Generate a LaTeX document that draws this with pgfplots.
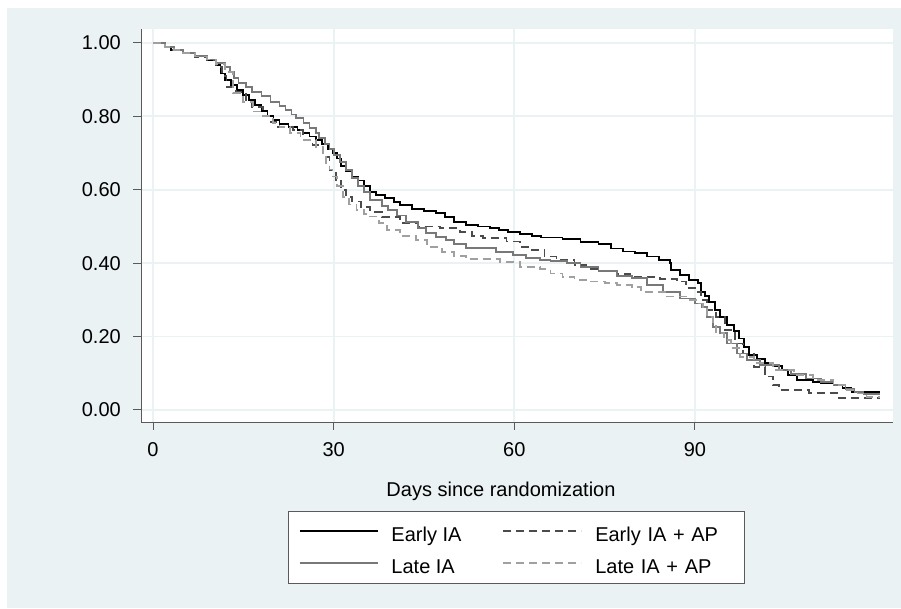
\documentclass[border=0pt]{standalone}
\usepackage{fontspec}
\setmainfont{Liberation Sans}
\usepackage{pgfplots}
\pgfplotsset{compat=1.18}
\definecolor{bgcol}{RGB}{234,242,243}
\definecolor{axiscol}{RGB}{90,90,90}
\definecolor{cEarly}{RGB}{0,0,0}
\definecolor{cEarlyAP}{RGB}{75,75,75}
\definecolor{cLate}{RGB}{120,120,120}
\definecolor{cLateAP}{RGB}{160,160,160}
\begin{document}
\begin{tikzpicture}[x=1pt,y=1pt]
\useasboundingbox (0,0) rectangle (901,608);
\fill[white] (0,0) rectangle (901,608);
\fill[bgcol] (7,0) rectangle (901,600);
\begin{axis}[
  at={(141pt,186pt)}, anchor=south west,
  scale only axis, width=752pt, height=393pt,
  xmin=-2.0, xmax=122.9, ymin=-0.0327, ymax=1.038,
  axis background/.style={fill=white},
  axis x line*=bottom, axis y line*=left,
  axis line style={-, color=axiscol, line width=1pt},
  xtick={0,30,60,90}, xticklabels={0,30,60,90},
  ytick={0,0.2,0.4,0.6,0.8,1}, yticklabels={0.00,0.20,0.40,0.60,0.80,1.00},
  tick align=outside, major tick length=8pt,
  tick style={color=axiscol, line width=1pt},
  grid=major, major grid style={color=bgcol, line width=1.8pt},
  tick label style={font=\fontsize{20}{24}\selectfont, inner sep=0pt},
  yticklabel style={xshift=-12pt},
  xticklabel style={yshift=-12pt},
  xlabel={Days since randomization},
  xlabel style={at={(axis description cs:0.4787,-0.1908)}, anchor=base, inner sep=0pt, font=\fontsize{20}{24}\selectfont},
  legend columns=2, legend cell align=left,
  legend image code/.code={\draw[#1] (0pt,0pt) -- (78pt,0pt);},
  legend style={at={(axis description cs:0.4993,-0.2265)}, anchor=north,
    draw=axiscol, line width=0.8pt, fill=white, font=\fontsize{20}{24}\selectfont,
    inner xsep=10pt, inner ysep=5pt, row sep=2.1pt,
    nodes={inner sep=0pt, text height=25pt, text depth=4.7pt},
    /tikz/every odd column/.append style={column sep=13pt},
    /tikz/every even column/.append style={column sep=41pt},
    /tikz/column 4/.style={text width=139pt}},
]
% Early IA
\addplot[cEarly, line width=1.8pt, const plot] coordinates {
(0,1.00)(2,0.99)(3,0.98)(5,0.972)(7,0.963)(9,0.954)(10.5,0.94)(11.2,0.917)(12,0.90)(13,0.885)(14,0.872)(15,0.858)(16,0.845)(17,0.83)(18,0.815)(19,0.80)(20,0.79)(21,0.78)(22.5,0.772)(24,0.762)(25,0.754)(26,0.745)(27,0.736)(28,0.725)(29,0.712)(29.8,0.70)(30.5,0.685)(31.2,0.665)(32,0.65)(33,0.635)(34,0.625)(35,0.61)(36,0.595)(37,0.586)(38.5,0.578)(40,0.566)(41,0.559)(43,0.548)(45,0.542)(47,0.536)(48.5,0.525)(50,0.512)(52,0.505)(54,0.50)(56,0.495)(57.5,0.49)(59,0.485)(61,0.48)(63,0.475)(64.5,0.47)(68,0.465)(71,0.458)(74,0.452)(76,0.44)(78,0.432)(80,0.427)(82,0.418)(84,0.409)(85.8,0.40)(86,0.381)(87.5,0.368)(89,0.354)(90.5,0.345)(91,0.322)(91.7,0.31)(92.3,0.295)(93.3,0.272)(94.2,0.254)(95.3,0.232)(96.5,0.215)(97.3,0.195)(98.2,0.172)(99,0.15)(100.3,0.139)(101.7,0.127)(103,0.12)(104.5,0.108)(105.5,0.095)(106.9,0.082)(109.6,0.077)(111,0.072)(113,0.068)(114.5,0.06)(116,0.05)(120.7,0.05)
};
\addlegendentry{Early IA}
% Early IA + AP
\addplot[cEarlyAP, line width=1.8pt, const plot, dash pattern=on 8pt off 5pt] coordinates {
(0,1.00)(2,0.99)(3,0.98)(5,0.972)(7,0.962)(9,0.952)(10.5,0.935)(11.5,0.91)(12.2,0.881)(13.8,0.867)(15.5,0.84)(16.5,0.825)(18.3,0.80)(19.5,0.785)(20.5,0.772)(23.2,0.763)(24.9,0.736)(26.5,0.722)(28.2,0.69)(29.3,0.654)(30.4,0.627)(31.2,0.60)(32,0.581)(33,0.568)(34.5,0.554)(36,0.54)(38,0.525)(41,0.509)(44,0.50)(47.6,0.495)(51,0.486)(53,0.475)(54.8,0.468)(58.7,0.459)(61,0.445)(63,0.436)(65,0.418)(67,0.409)(70,0.395)(72,0.385)(74.3,0.378)(77,0.37)(79.2,0.363)(84.2,0.356)(87,0.35)(88.5,0.332)(90,0.322)(91,0.30)(92,0.272)(93.5,0.254)(95,0.218)(96.6,0.181)(98,0.154)(99.8,0.118)(101.7,0.091)(103,0.068)(104,0.054)(109,0.046)(113.6,0.033)(120.7,0.033)
};
\addlegendentry{Early IA + AP}
% Late IA
\addplot[cLate, line width=1.8pt, const plot] coordinates {
(0,1.00)(2,0.99)(3.5,0.98)(5,0.972)(7,0.965)(9,0.955)(10.5,0.945)(12,0.935)(12.8,0.922)(13.5,0.905)(14.2,0.89)(15.5,0.88)(16.5,0.867)(18,0.855)(19.5,0.84)(21,0.828)(22,0.817)(23,0.805)(23.8,0.795)(25,0.782)(26,0.768)(27,0.755)(27.6,0.74)(28.5,0.725)(29.3,0.71)(30,0.695)(31,0.675)(32,0.654)(33,0.632)(34,0.61)(35,0.595)(36,0.572)(38,0.555)(39,0.545)(40.5,0.53)(42,0.513)(44,0.495)(45.4,0.482)(47,0.472)(48.7,0.463)(50,0.452)(52,0.441)(57,0.431)(59.8,0.422)(62,0.415)(64.3,0.409)(66,0.405)(68.7,0.40)(71,0.39)(74,0.378)(77,0.365)(79.5,0.359)(82,0.341)(84.7,0.322)(87.5,0.304)(90,0.29)(91.2,0.281)(92,0.254)(93,0.227)(94.2,0.209)(95.3,0.181)(97,0.154)(98.6,0.136)(100.8,0.123)(104,0.109)(106,0.097)(108.4,0.086)(111,0.077)(113,0.068)(115,0.058)(116.5,0.05)(118,0.044)(120.7,0.044)
};
\addlegendentry{Late IA}
% Late IA + AP
\addplot[cLateAP, line width=1.8pt, const plot, dash pattern=on 8pt off 5pt] coordinates {
(0,1.00)(2,0.99)(3.5,0.98)(5,0.972)(7,0.963)(9,0.955)(10.5,0.942)(12,0.92)(13.3,0.863)(15,0.84)(16.6,0.813)(18,0.80)(19.9,0.781)(21,0.77)(22.7,0.754)(24.5,0.736)(27.1,0.717)(28.2,0.69)(28.7,0.672)(29.3,0.655)(29.8,0.636)(30.5,0.61)(31.5,0.581)(32.5,0.56)(33.8,0.545)(35,0.535)(36,0.527)(37.5,0.51)(38.8,0.49)(41,0.475)(43.7,0.463)(45.5,0.445)(48,0.431)(50,0.42)(52,0.411)(57.6,0.404)(61,0.39)(64.3,0.384)(66,0.372)(68,0.363)(70,0.355)(72.6,0.35)(75,0.345)(77,0.34)(79.5,0.336)(81,0.322)(85,0.309)(89,0.30)(90.5,0.29)(91.3,0.281)(92,0.254)(93,0.236)(93.5,0.209)(94.8,0.19)(96,0.168)(97.5,0.145)(99.8,0.127)(103,0.109)(106.4,0.095)(109.6,0.082)(113,0.068)(115,0.055)(117,0.045)(118.5,0.036)(120.7,0.036)
};
\addlegendentry{Late IA + AP}
\end{axis}
\end{tikzpicture}
\end{document}
